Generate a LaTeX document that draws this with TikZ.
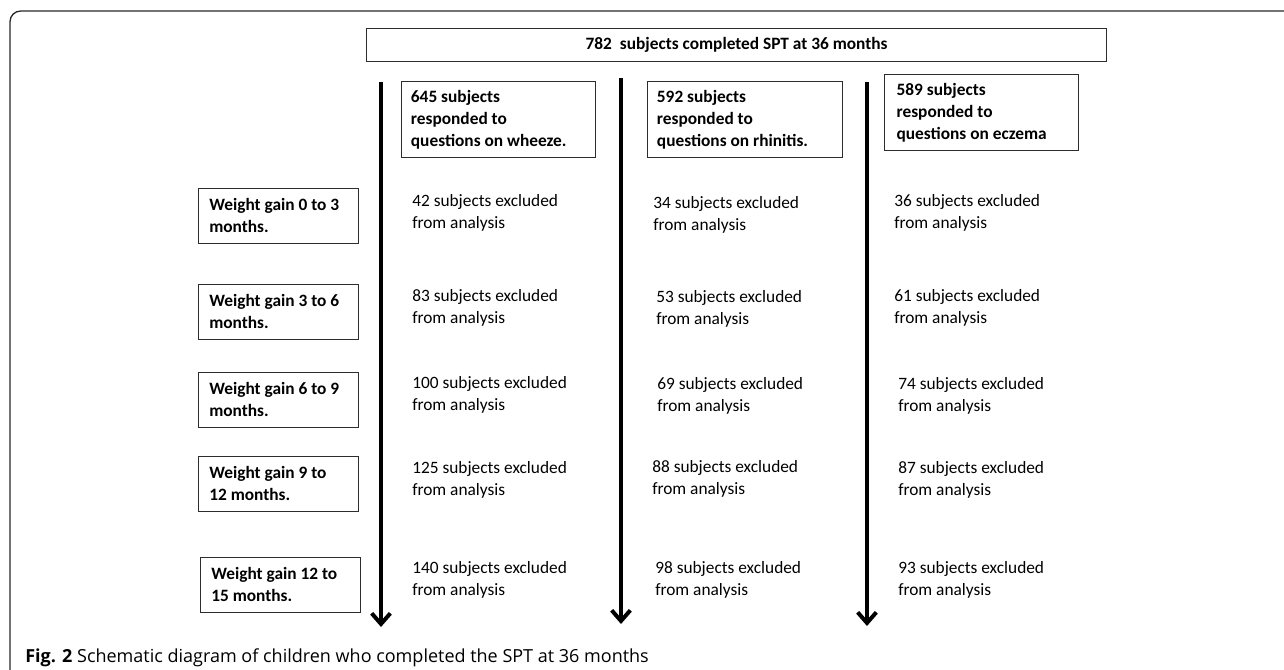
\documentclass[tikz,border=0pt]{standalone}
\usepackage{fontspec}
\setmainfont{Carlito}
\newfontfamily\capfont{Open Sans}
\usepackage{tikz}
\usetikzlibrary{arrows.meta}
\usepackage{xcolor}
\definecolor{boxline}{RGB}{45,45,45}
\definecolor{frameline}{RGB}{40,40,40}

\begin{document}
\begin{tikzpicture}[x=0.75pt,y=-0.75pt,
  every node/.style={font=\fontsize{13}{16.5}\selectfont},
  gainbox/.style={draw=boxline,line width=0.9pt,anchor=north west,align=flush left,
    text width=104pt,inner xsep=8pt,inner ysep=0pt,minimum height=41pt,
    font=\bfseries\fontsize{13}{16.5}\selectfont},
  qbox/.style={draw=boxline,line width=0.9pt,anchor=north west,align=flush left,
    inner xsep=7pt,inner ysep=0pt,minimum height=57pt,
    font=\bfseries\fontsize{13}{16.5}\selectfont},
  excl/.style={anchor=west,align=left,inner sep=0pt},
  flow/.style={line width=2.6pt,-{Straight Barb[length=8pt,width=14pt,line width=3pt]}}]
\useasboundingbox (0,0) rectangle (1284,670);
% frame of the figure
\draw[frameline,line width=1pt,rounded corners=8pt] (10,670) -- (10,11) -- (1284,11);

% top box
\node[draw=boxline,line width=0.9pt,anchor=north west,minimum width=555pt,minimum height=24.75pt,
  inner sep=0pt,font=\bfseries\fontsize{13}{16.5}\selectfont] (top) at (366,28)
  {782~~subjects completed SPT at 36 months};

% questionnaire boxes
\node[qbox,text width=131.5pt] (qw) at (401,81) {645 subjects\\responded to\\questions on wheeze.};
\node[qbox,text width=132pt] (qr) at (647,81) {592 subjects\\responded to\\questions on rhinitis.};
\node[qbox,text width=127.5pt,inner xsep=9pt] (qe) at (884,74) {589 subjects\\responded to\\questions on eczema};

% weight gain periods
\node[gainbox] (g1) at (198,188) {Weight gain 0 to 3\\months.};
\node[gainbox] (g2) at (198,284) {Weight gain 3 to 6\\months.};
\node[gainbox] (g3) at (198,372) {Weight gain 6 to 9\\months.};
\node[gainbox] (g4) at (198,456) {Weight gain 9 to\\12 months.};
\node[gainbox] (g5) at (200,557) {Weight gain 12 to\\15 months.};

% excluded, wheeze
\node[excl] (w1) at (412,213) {42 subjects excluded\\from analysis};
\node[excl] (w2) at (412,308) {83 subjects excluded\\from analysis};
\node[excl] (w3) at (412,395) {100 subjects excluded\\from analysis};
\node[excl] (w4) at (412,480) {125 subjects excluded\\from analysis};
\node[excl] (w5) at (412,580) {140 subjects excluded\\from analysis};

% excluded, rhinitis
\node[excl] (r1) at (653,215) {34 subjects excluded\\from analysis};
\node[excl] (r2) at (656,309) {53 subjects excluded\\from analysis};
\node[excl] (r3) at (657,396) {69 subjects excluded\\from analysis};
\node[excl] (r4) at (652,479) {88 subjects excluded\\from analysis};
\node[excl] (r5) at (655,580) {98 subjects excluded\\from analysis};

% excluded, eczema
\node[excl] (e1) at (894,213) {36 subjects excluded\\from analysis};
\node[excl] (e2) at (894,308) {61 subjects excluded\\from analysis};
\node[excl] (e3) at (898,396) {74 subjects excluded\\from analysis};
\node[excl] (e4) at (898,480) {87 subjects excluded\\from analysis};
\node[excl] (e5) at (898,580) {93 subjects excluded\\from analysis};

% arrows
\coordinate (wtop) at (381,82);
\coordinate (wend) at (381,627);
\coordinate (rtop) at (621,78);
\coordinate (rend) at (621,624);
\coordinate (etop) at (867,82);
\coordinate (eend) at (867,626);
\draw[flow] (wtop) -- (wend);
\draw[flow] (rtop) -- (rend);
\draw[flow] (etop) -- (eend);

% caption
\node[anchor=base west,inner sep=0pt,font=\capfont\fontsize{13.5}{16}\selectfont] (cap) at (25,662)
  {\textbf{Fig. 2} Schematic diagram of children who completed the SPT at 36 months};
\end{tikzpicture}
\end{document}
